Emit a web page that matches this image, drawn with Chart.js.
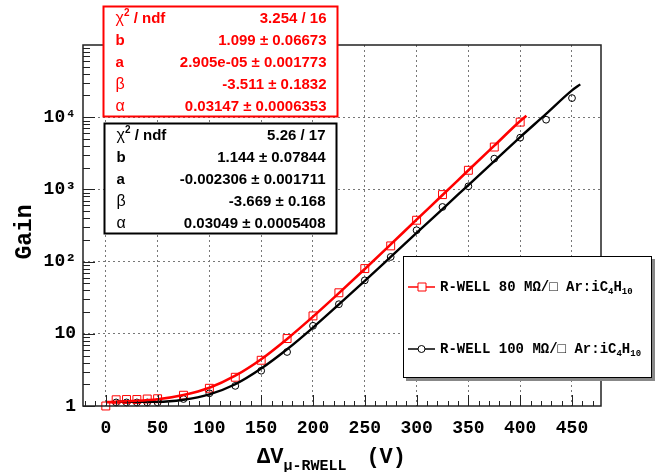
<!DOCTYPE html>
<html>
<head>
<meta charset="utf-8">
<script src="https://cdn.jsdelivr.net/npm/chart.js@4"></script>
<style>
  body { margin: 0; background: #fff; }
  #wrap { width: 659px; height: 472px; }
</style>
</head>
<body>
<div id="wrap"><canvas id="gainChart" width="659" height="472"></canvas></div>
<script>
// R-WELL 80 MOhm/sq, measured gain
const redVolt = [0, 10, 20, 30, 40, 50, 75, 100, 125, 150, 175, 200, 225, 250, 275, 300, 325, 350, 375, 400];
const redGain = [1.0, 1.22, 1.23, 1.23, 1.25, 1.26, 1.41, 1.76, 2.5, 4.3, 8.6, 17.7, 37, 80, 165, 374, 847, 1840, 3860, 8550];

// R-WELL 100 MOhm/sq, measured gain
const blackVolt = [10, 20, 30, 40, 50, 75, 100, 125, 150, 175, 200, 225, 250, 275, 300, 325, 350, 375, 400, 425, 450];
const blackGain = [1.12, 1.12, 1.12, 1.12, 1.12, 1.25, 1.5, 1.9, 3.08, 5.6, 12.9, 25.7, 55, 116, 272, 571, 1104, 2666, 5200, 9230, 18400];

// fit curves
const redFitVolt = [1, 25, 50, 75, 100, 125, 150, 175, 200, 225, 250, 275, 300, 325, 350, 375, 400, 406];
const redFitGain = [1.13, 1.17, 1.24, 1.42, 1.79, 2.63, 4.45, 8.5, 17.3, 36.6, 79, 173, 381, 835, 1840, 4040, 8860, 10500];
const blackFitVolt = [10, 25, 50, 75, 100, 125, 150, 175, 200, 225, 250, 275, 300, 325, 350, 375, 400, 425, 450, 458];
const blackFitGain = [1.15, 1.14, 1.14, 1.22, 1.45, 2.0, 3.3, 6.1, 12.2, 25.5, 54, 116, 250, 535, 1150, 2470, 5300, 11100, 23500, 28500];

const xTicks = [0, 50, 100, 150, 200, 250, 300, 350, 400, 450];
const yTicks = [1, 10, 100, 1000, 10000, 100000];
const yTickLabels = ['1', '10', '10²', '10³', '10⁴', ''];

const statNames = ['χ', 'b', 'a', 'β', 'α'];
const redStats = ['3.254 / 16', '1.099 ± 0.06673', '2.905e-05 ± 0.001773', '-3.511 ± 0.1832', '0.03147 ± 0.0006353'];
const blackStats = ['5.26 / 17', '1.144 ± 0.07844', '-0.002306 ± 0.001711', '-3.669 ± 0.168', '0.03049 ± 0.0005408'];

const legendLabels = ['R-WELL 80 MΩ/□ Ar:iC', 'R-WELL 100 MΩ/□ Ar:iC'];

const MONO = '"Liberation Mono", "DejaVu Sans Mono", monospace';
const SANS = '"Liberation Sans", Arial, sans-serif';
const RED = '#ff0000';

function toPoints(xs, ys) {
    return xs.map((x, i) => ({ x: x, y: ys[i] }));
}

// white page
const bgPlugin = {
    id: 'bg',
    beforeDraw(chart) {
        const ctx = chart.ctx;
        ctx.save();
        ctx.fillStyle = '#fff';
        ctx.fillRect(0, 0, chart.width, chart.height);
        ctx.restore();
    }
};

// frame and inward ticks, ROOT style
const framePlugin = {
    id: 'frame',
    afterDatasetsDraw(chart) {
        const ctx = chart.ctx;
        const a = chart.chartArea;
        const xs = chart.scales.x;
        const ys = chart.scales.y;
        ctx.save();
        ctx.strokeStyle = '#222';
        ctx.lineWidth = 1;
        ctx.beginPath();
        for (let v = -20; v <= 470; v += 10) {
            const px = Math.round(xs.getPixelForValue(v)) + 0.5;
            const len = (v % 50 === 0) ? 11 : 5;
            ctx.moveTo(px, a.bottom);
            ctx.lineTo(px, a.bottom - len);
        }
        for (let d = 1; d < 1e5; d *= 10) {
            for (let m = 1; m < 10; m++) {
                const py = Math.round(ys.getPixelForValue(d * m)) + 0.5;
                const len = m === 1 ? 12 : 7;
                ctx.moveTo(a.left, py);
                ctx.lineTo(a.left + len, py);
            }
        }
        ctx.stroke();
        ctx.lineWidth = 1.5;
        ctx.strokeRect(a.left, a.top, a.right - a.left, a.bottom - a.top);
        ctx.restore();
    }
};

function drawParts(ctx, parts, x, y) {
    let cx = x;
    parts.forEach(p => {
        ctx.font = p.font;
        ctx.fillText(p.t, cx, y + (p.dy || 0));
        cx += ctx.measureText(p.t).width;
    });
    return cx;
}

function drawStatBox(ctx, left, top, w, h, color, values) {
    ctx.save();
    ctx.fillStyle = '#fff';
    ctx.fillRect(left, top, w, h);
    ctx.strokeStyle = color;
    ctx.lineWidth = 2;
    ctx.strokeRect(left, top, w, h);
    ctx.fillStyle = color;
    ctx.textBaseline = 'alphabetic';
    const row = h / 5;
    statNames.forEach((name, i) => {
        const base = top + row * i + row / 2 + 5;
        ctx.textAlign = 'left';
        if (i === 0) {
            drawParts(ctx, [
                { t: name, font: '16px ' + SANS },
                { t: '2', font: 'bold 10px ' + SANS, dy: -7 },
                { t: ' / ndf', font: 'bold 15px ' + SANS }
            ], left + 12, base);
        } else if (name === 'β' || name === 'α') {
            ctx.font = '16px ' + SANS;
            ctx.fillText(name, left + 12, base);
        } else {
            ctx.font = 'bold 15px ' + SANS;
            ctx.fillText(name, left + 12, base);
        }
        ctx.textAlign = 'right';
        ctx.font = 'bold 15px ' + SANS;
        ctx.fillText(values[i], left + w - 11, base);
    });
    ctx.restore();
}

const overlayPlugin = {
    id: 'overlay',
    afterDraw(chart) {
        const ctx = chart.ctx;

        // axis titles
        ctx.save();
        ctx.fillStyle = '#000';
        ctx.textBaseline = 'alphabetic';
        ctx.textAlign = 'left';
        const e = drawParts(ctx, [
            { t: 'ΔV', font: 'bold 22px ' + MONO },
            { t: 'μ-RWELL', font: 'bold 15px ' + MONO, dy: 7 }
        ], 257, 463);
        ctx.font = 'bold 22px ' + MONO;
        ctx.fillText('(V)', e + 20, 463);
        ctx.translate(25, 232);
        ctx.rotate(-Math.PI / 2);
        ctx.textAlign = 'center';
        ctx.textBaseline = 'middle';
        ctx.font = 'bold 23px ' + MONO;
        ctx.fillText('Gain', 0, 0);
        ctx.restore();

        drawStatBox(ctx, 103.5, 6.5, 234, 110, RED, redStats);
        drawStatBox(ctx, 104.5, 123.5, 232, 110, '#000', blackStats);

        // legend
        ctx.save();
        ctx.fillStyle = '#888';
        ctx.fillRect(406, 259, 249, 122);
        ctx.fillStyle = '#fff';
        ctx.fillRect(403, 256, 249, 122);
        ctx.strokeStyle = '#000';
        ctx.lineWidth = 1;
        ctx.strokeRect(403.5, 256.5, 248, 121);
        const rows = [
            { y: 287, color: RED, label: legendLabels[0] },
            { y: 349, color: '#000', label: legendLabels[1] }
        ];
        rows.forEach((r, i) => {
            ctx.strokeStyle = r.color;
            ctx.lineWidth = 1.5;
            ctx.beginPath();
            ctx.moveTo(408, r.y);
            ctx.lineTo(435, r.y);
            ctx.stroke();
            ctx.fillStyle = '#fff';
            ctx.lineWidth = 1;
            ctx.beginPath();
            if (i === 0) {
                ctx.rect(418, r.y - 4, 8, 8);
            } else {
                ctx.arc(421.5, r.y, 3.5, 0, Math.PI * 2);
            }
            ctx.fill();
            ctx.stroke();
            ctx.fillStyle = '#000';
            ctx.textBaseline = 'middle';
            ctx.textAlign = 'left';
            drawParts(ctx, [
                { t: r.label, font: 'bold 14px ' + MONO },
                { t: '4', font: 'bold 9px ' + MONO, dy: 5 },
                { t: 'H', font: 'bold 14px ' + MONO },
                { t: '10', font: 'bold 9px ' + MONO, dy: 5 }
            ], 440, r.y);
        });
        ctx.restore();
    }
};

const chart = new Chart(document.getElementById('gainChart'), {
    type: 'scatter',
    data: {
        datasets: [
            {
                label: 'fit 80',
                data: toPoints(redFitVolt, redFitGain),
                showLine: true,
                borderColor: RED,
                borderWidth: 2.6,
                pointRadius: 0,
                cubicInterpolationMode: 'monotone',
                fill: false
            },
            {
                label: 'fit 100',
                data: toPoints(blackFitVolt, blackFitGain),
                showLine: true,
                borderColor: '#000',
                borderWidth: 2.4,
                pointRadius: 0,
                cubicInterpolationMode: 'monotone',
                fill: false
            },
            {
                label: 'R-WELL 80',
                data: toPoints(redVolt, redGain),
                showLine: false,
                pointStyle: 'rect',
                pointRadius: 5.6,
                borderColor: RED,
                borderWidth: 1,
                backgroundColor: 'rgba(0,0,0,0)',
                clip: false
            },
            {
                label: 'R-WELL 100',
                data: toPoints(blackVolt, blackGain),
                showLine: false,
                pointStyle: 'circle',
                pointRadius: 3.4,
                borderColor: '#000',
                borderWidth: 1,
                backgroundColor: 'rgba(0,0,0,0)',
                clip: false
            }
        ]
    },
    options: {
        responsive: false,
        animation: false,
        layout: { padding: { left: 0, right: 58, top: 45, bottom: 0 } },
        plugins: {
            legend: { display: false },
            tooltip: { enabled: false }
        },
        scales: {
            x: {
                type: 'linear',
                min: -22,
                max: 478,
                afterBuildTicks: s => { s.ticks = xTicks.map(v => ({ value: v })); },
                afterFit: s => { s.height = 66; },
                grid: { color: '#777', lineWidth: 1, drawTicks: false, borderDash: [2, 3] },
                border: { display: false, dash: [2, 3] },
                ticks: {
                    padding: 12,
                    color: '#000',
                    autoSkip: false,
                    maxRotation: 0,
                    font: { family: MONO, size: 18, weight: 'bold' },
                    callback: v => String(v)
                }
            },
            y: {
                type: 'logarithmic',
                min: 1,
                max: 100000,
                afterBuildTicks: s => { s.ticks = yTicks.map(v => ({ value: v })); },
                afterFit: s => { s.width = 83; },
                grid: {
                    color: c => (c.tick && (c.tick.value === 1 || c.tick.value === 100000)) ? 'rgba(0,0,0,0)' : '#777',
                    lineWidth: 1,
                    drawTicks: false,
                    borderDash: [2, 3]
                },
                border: { display: false, dash: [2, 3] },
                ticks: {
                    padding: 7,
                    color: '#000',
                    autoSkip: false,
                    font: { family: MONO, size: 18, weight: 'bold' },
                    callback: (v, i) => yTickLabels[i]
                }
            }
        }
    },
    plugins: [bgPlugin, framePlugin, overlayPlugin]
});
</script>
</body>
</html>
